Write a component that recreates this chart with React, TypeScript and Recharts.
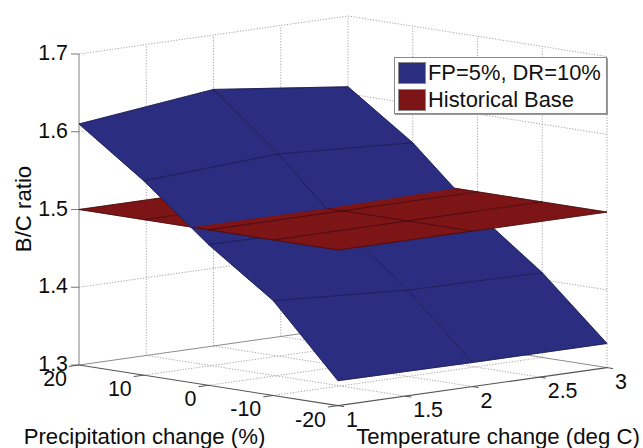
import React from "react";
import { ComposedChart, Legend, Scatter, XAxis, YAxis } from "recharts";

// ---- data ----
const surfaceTemps = [1, 2, 3];
const surfacePrecips = [20, 10, 0, -10, -20];
const fpRatioAtT1 = [1.61, 1.55, 1.481, 1.422, 1.332];
const fpRatioAtT2 = [1.63, 1.56, 1.479, 1.411, 1.331];
const fpRatioAtT3 = [1.609, 1.55, 1.472, 1.409, 1.331];
const baseRatioAtT1 = [1.5, 1.5, 1.5, 1.5, 1.5];
const baseRatioAtT2 = [1.5, 1.5, 1.5, 1.5, 1.5];
const baseRatioAtT3 = [1.5, 1.5, 1.5, 1.5, 1.5];
const tempTicks = [1, 1.5, 2, 2.5, 3];
const precipTicks = [20, 10, 0, -10, -20];
const ratioTicks = [1.3, 1.4, 1.5, 1.6, 1.7];
const seriesNames = ["FP=5%, DR=10%", "Historical Base"];
const tempTitle = "Temperature change (deg C)";
const precipTitle = "Precipitation change (%)";
const ratioTitle = "B/C ratio";

// ---- styles ----
const W = 643;
const H = 448;
const BLUE = "#2b2d80";
const RED = "#7d1416";
const FONT = "'Liberation Sans', Arial, sans-serif";
const TEXT = "#0c0c0c";
const TICK_SIZE = 21.4;
const TITLE_SIZE = 22.2;

// ---- orthographic projection of the 3-D box on the picture plane ----
type P3 = { t: number; p: number; r: number };
const project = ({ t, p, r }: P3) => ({
  x: 79 + (t - 1) * 134.5 + (20 - p) * 6.475,
  y: 365 - (t - 1) * 19 + (20 - p) * 1.015 - (r - 1.3) * 777.5,
});
const pt = (t: number, p: number, r: number): P3 => ({ t, p, r });
const mix = (a: P3, b: P3, k: number): P3 => ({
  t: a.t + (b.t - a.t) * k,
  p: a.p + (b.p - a.p) * k,
  r: a.r + (b.r - a.r) * k,
});

// keep the part of a polygon on one side of the ratio level
function clipPolygon(poly: P3[], level: number, above: boolean): P3[] {
  const inside = (q: P3) => (above ? q.r >= level : q.r <= level);
  const out: P3[] = [];
  poly.forEach((a, i) => {
    const b = poly[(i + 1) % poly.length];
    if (inside(a)) out.push(a);
    if (inside(a) !== inside(b)) out.push(mix(a, b, (level - a.r) / (b.r - a.r)));
  });
  return out;
}
function clipSegment(a: P3, b: P3, level: number, above: boolean): P3[] {
  const inside = (q: P3) => (above ? q.r >= level : q.r <= level);
  if (inside(a) && inside(b)) return [a, b];
  if (!inside(a) && !inside(b)) return [];
  const c = mix(a, b, (level - a.r) / (b.r - a.r));
  return inside(a) ? [a, c] : [c, b];
}

type Grid = number[][];
const fpGrid: Grid = [fpRatioAtT1, fpRatioAtT2, fpRatioAtT3];
const baseGrid: Grid = [baseRatioAtT1, baseRatioAtT2, baseRatioAtT3];

function quads(grid: Grid): P3[][] {
  const out: P3[][] = [];
  for (let i = 0; i < surfaceTemps.length - 1; i++)
    for (let j = 0; j < surfacePrecips.length - 1; j++) {
      const [t0, t1] = [surfaceTemps[i], surfaceTemps[i + 1]];
      const [p0, p1] = [surfacePrecips[j], surfacePrecips[j + 1]];
      out.push([
        pt(t0, p0, grid[i][j]),
        pt(t1, p0, grid[i + 1][j]),
        pt(t1, p1, grid[i + 1][j + 1]),
        pt(t0, p1, grid[i][j + 1]),
      ]);
    }
  return out;
}
function edges(grid: Grid): P3[][] {
  const out: P3[][] = [];
  surfaceTemps.forEach((t, i) =>
    surfacePrecips.forEach((p, j) => {
      if (i < surfaceTemps.length - 1)
        out.push([pt(t, p, grid[i][j]), pt(surfaceTemps[i + 1], p, grid[i + 1][j])]);
      if (j < surfacePrecips.length - 1)
        out.push([pt(t, p, grid[i][j]), pt(t, surfacePrecips[j + 1], grid[i][j + 1])]);
    })
  );
  return out;
}

const LEVEL = 1.5;
const fpQuads = quads(fpGrid);
const fpEdges = edges(fpGrid);
const fpBelow = fpQuads.map((q) => clipPolygon(q, LEVEL, false)).filter((q) => q.length > 2);
const fpAbove = fpQuads.map((q) => clipPolygon(q, LEVEL, true)).filter((q) => q.length > 2);
const fpEdgesBelow = fpEdges.map(([a, b]) => clipSegment(a, b, LEVEL, false)).filter((s) => s.length);
const fpEdgesAbove = fpEdges.map(([a, b]) => clipSegment(a, b, LEVEL, true)).filter((s) => s.length);

const R0 = ratioTicks[0];
const R1 = ratioTicks[ratioTicks.length - 1];
const T0 = tempTicks[0];
const T1 = tempTicks[tempTicks.length - 1];
const P0 = precipTicks[0];
const P1 = precipTicks[precipTicks.length - 1];

// back walls and floor
const dotted: P3[][] = [
  ...tempTicks.slice(1).map((t) => [pt(t, P0, R0), pt(t, P0, R1)]),
  ...precipTicks.slice(1).map((p) => [pt(T1, p, R0), pt(T1, p, R1)]),
  ...ratioTicks.slice(1).flatMap((r) => [
    [pt(T0, P0, r), pt(T1, P0, r)],
    [pt(T1, P0, r), pt(T1, P1, r)],
  ]),
  ...tempTicks.slice(1, -1).map((t) => [pt(t, P0, R0), pt(t, P1, R0)]),
  ...precipTicks.slice(1, -1).map((p) => [pt(T0, p, R0), pt(T1, p, R0)]),
];
const solidBack: P3[][] = [
  [pt(T0, P0, R0), pt(T1, P0, R0)],
  [pt(T1, P0, R0), pt(T1, P1, R0)],
];
const axisFront: P3[][] = [
  [pt(T0, P0, R0), pt(T0, P1, R0)],
  [pt(T0, P1, R0), pt(T1, P1, R0)],
];

const toXY = (pts: P3[]) => pts.map(project);

// ---- series drawers ----
const noPoint = () => <g />;
const polygonLine = (fill: string) => (props: any) => {
  const d = props.points.map((q: any, i: number) => `${i ? "L" : "M"}${q.x},${q.y}`).join("") + "Z";
  return <path d={d} fill={fill} stroke={fill} strokeWidth={0.6} />;
};
const strokeLine =
  (stroke: string, width: number, dash?: string) => (props: any) => {
    const d = props.points.map((q: any, i: number) => `${i ? "L" : "M"}${q.x},${q.y}`).join("");
    return <path d={d} fill="none" stroke={stroke} strokeWidth={width} strokeDasharray={dash} />;
  };
const textShape =
  (anchor: string, size: number) => (props: any) =>
    (
      <text
        x={props.cx}
        y={props.cy}
        textAnchor={anchor as any}
        dominantBaseline="central"
        fontFamily={FONT}
        fontSize={size}
        fill={TEXT}
      >
        {props.payload.label}
      </text>
    );
const rotatedText = (props: any) => (
  <text
    x={props.cx}
    y={props.cy}
    textAnchor="middle"
    dominantBaseline="central"
    fontFamily={FONT}
    fontSize={TITLE_SIZE}
    fill={TEXT}
    transform={`rotate(-90 ${props.cx} ${props.cy})`}
  >
    {props.payload.label}
  </text>
);

const series = (key: string, lines: P3[][], draw: (p: any) => React.ReactElement) =>
  lines.map((l, i) => (
    <Scatter
      key={`${key}${i}`}
      data={toXY(l)}
      line={draw as any}
      shape={noPoint as any}
      isAnimationActive={false}
      legendType="none"
    />
  ));

const fmt = (v: number) => String(v);
const ratioLabels = ratioTicks.map((r) => {
  const q = project(pt(T0, P0, r));
  return { x: q.x - 11, y: q.y - 1, label: fmt(r) };
});
const precipLabels = precipTicks.map((p) => {
  const q = project(pt(T0, p, R0));
  return { x: q.x - 12, y: q.y + 14, label: fmt(p) };
});
const tempLabels = tempTicks.map((t) => {
  const q = project(pt(t, P1, R0));
  return { x: q.x + 8, y: q.y + 14, label: fmt(t) };
});

// tick marks
const ratioTickMarks = ratioTicks.map((r) => {
  const q = project(pt(T0, P0, r));
  return [q, { x: q.x - 8, y: q.y }];
});
const precipTickMarks = precipTicks.map((p) => {
  const q = project(pt(T0, p, R0));
  return [q, { x: q.x - 10, y: q.y + 1.4 }];
});
const tempTickMarks = tempTicks.map((t) => {
  const q = project(pt(t, P1, R0));
  return [q, { x: q.x + 6, y: q.y + 1 }];
});

const legendContent = () => (
  <div
    style={{
      boxSizing: "border-box",
      width: 213,
      height: 57,
      background: "#fff",
      border: "1px solid #8a8a8a",
      boxShadow: "1px 1px 0 #9a9a9a",
      fontFamily: FONT,
      fontSize: 21.9,
      color: "#111",
      padding: "2px 0 0 3px",
    }}
  >
    {seriesNames.map((name, i) => (
      <div key={name} style={{ display: "flex", alignItems: "center", height: 26.5 }}>
        <span
          style={{
            display: "inline-block",
            flex: "none",
            width: 26,
            height: 20,
            marginRight: 2,
            background: i === 0 ? BLUE : RED,
            border: "1px solid #8a8a8a",
          }}
        />
        <span style={{ whiteSpace: "nowrap" }}>{name}</span>
      </div>
    ))}
  </div>
);

export default function App() {
  return (
    <div style={{ position: "absolute", left: 0, top: 0, width: W, height: H, background: "#fff" }}>
      <ComposedChart width={W} height={H} margin={{ top: 0, right: 0, bottom: 0, left: 0 }}>
        <XAxis type="number" dataKey="x" domain={[0, W]} hide />
        <YAxis type="number" dataKey="y" domain={[0, H]} reversed hide />
        <Legend
          content={legendContent}
          layout="horizontal"
          verticalAlign="middle"
          wrapperStyle={{ left: 394, top: 57, width: 213, height: 57, bottom: "auto" }}
        />

        {series("wall", dotted, strokeLine("#9c9c9c", 0.9, "1.2 1.6"))}
        {series("back", solidBack, strokeLine("#8c8c8c", 1))}
        {series("zaxis", [[pt(T0, P0, R0), pt(T0, P0, R1)]], strokeLine("#8a8a8a", 1.1))}
        {series("front", axisFront, strokeLine("#555", 1.1))}

        {ratioTickMarks.map((l, i) => (
          <Scatter key={`rt${i}`} data={l} line={strokeLine("#777", 1) as any} shape={noPoint as any} isAnimationActive={false} />
        ))}
        {precipTickMarks.map((l, i) => (
          <Scatter key={`pt${i}`} data={l} line={strokeLine("#555", 1) as any} shape={noPoint as any} isAnimationActive={false} />
        ))}
        {tempTickMarks.map((l, i) => (
          <Scatter key={`tt${i}`} data={l} line={strokeLine("#555", 1) as any} shape={noPoint as any} isAnimationActive={false} />
        ))}

        {series("fpLow", fpBelow, polygonLine(BLUE))}
        {series("fpLowE", fpEdgesBelow, strokeLine("#14143f", 0.7))}
        {series("base", quads(baseGrid), polygonLine(RED))}
        {series("baseE", edges(baseGrid), strokeLine("#3a0a0c", 0.7))}
        {series("fpHigh", fpAbove, polygonLine(BLUE))}
        {series("fpHighE", fpEdgesAbove, strokeLine("#14143f", 0.7))}

        <Scatter data={ratioLabels} shape={textShape("end", TICK_SIZE) as any} isAnimationActive={false} />
        <Scatter data={precipLabels} shape={textShape("end", TICK_SIZE) as any} isAnimationActive={false} />
        <Scatter data={tempLabels} shape={textShape("start", TICK_SIZE) as any} isAnimationActive={false} />
        <Scatter data={[{ x: 144.5, y: 436, label: precipTitle }]} shape={textShape("middle", TITLE_SIZE) as any} isAnimationActive={false} />
        <Scatter data={[{ x: 498, y: 436, label: tempTitle }]} shape={textShape("middle", TITLE_SIZE) as any} isAnimationActive={false} />
        <Scatter data={[{ x: 23, y: 209, label: ratioTitle }]} shape={rotatedText as any} isAnimationActive={false} />
      </ComposedChart>
    </div>
  );
}
